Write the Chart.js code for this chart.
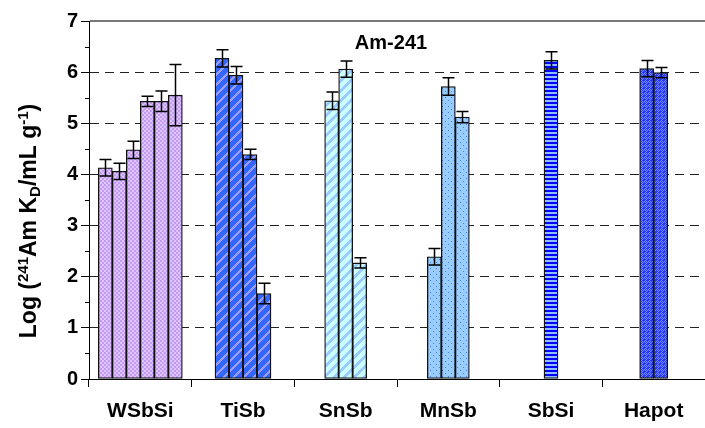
<!DOCTYPE html>
<html><head><meta charset="utf-8">
<script src="https://cdn.jsdelivr.net/npm/chart.js@4.4.0/dist/chart.umd.min.js"></script>
<style>html,body{margin:0;padding:0;background:#fff;}canvas{display:block;}</style>
</head><body><canvas id="c" width="705" height="428"></canvas>
<script>
// ---- data ----
const categories = ['WSbSi', 'TiSb', 'SnSb', 'MnSb', 'SbSi', 'Hapot'];
const wsbsiValues = [4.13, 4.06, 4.48, 5.43, 5.43, 5.55];
const wsbsiErrors = [0.16, 0.16, 0.17, 0.10, 0.20, 0.60];
const tisbValues  = [6.27, 5.94, 4.39, 1.67];
const tisbErrors  = [0.17, 0.17, 0.10, 0.20];
const snsbValues  = [5.44, 6.06, 2.27];
const snsbErrors  = [0.17, 0.16, 0.10];
const mnsbValues  = [2.39, 5.72, 5.12];
const mnsbErrors  = [0.16, 0.17, 0.11];
const sbsiValues  = [6.23];
const sbsiErrors  = [0.17];
const hapotValues = [6.07, 5.99];
const hapotErrors = [0.16, 0.10];
const yTickValues = [0, 1, 2, 3, 4, 5, 6, 7];
const chartTitle = 'Am-241';

const groupValues = [wsbsiValues, tisbValues, snsbValues, mnsbValues, sbsiValues, hapotValues];
const groupErrors = [wsbsiErrors, tisbErrors, snsbErrors, mnsbErrors, sbsiErrors, hapotErrors];
const FONT = "'Liberation Sans', Arial, sans-serif";

// ---- patterns ----
function makePattern(w, h, draw) {
  const c = document.createElement('canvas');
  c.width = w; c.height = h;
  const g = c.getContext('2d');
  draw(g, w, h);
  return document.getElementById('c').getContext('2d').createPattern(c, 'repeat');
}
const patWSbSi = makePattern(4, 4, (g) => {
  g.fillStyle = '#DCC6FB'; g.fillRect(0, 0, 4, 4);
  g.fillStyle = '#C49AF4'; g.fillRect(0, 0, 2, 2); g.fillRect(2, 2, 2, 2);
});
function diagStripes(base, stripe, period, width) {
  return makePattern(period, period, (g, w, h) => {
    g.fillStyle = base; g.fillRect(0, 0, w, h);
    g.fillStyle = stripe;
    for (let y = 0; y < h; y++) {
      for (let k = 0; k < width; k++) {
        const x = ((period - 1 - y) + k + period * 2) % period;
        g.fillRect(x, y, 1, 1);
      }
    }
  });
}
const patTiSb = diagStripes('#3366FF', '#9C9CFF', 10, 3);
const patSnSb = diagStripes('#CCFFFF', '#9CCBFF', 10, 4);
const patMnSb = makePattern(6, 6, (g) => {
  g.fillStyle = '#99CCFF'; g.fillRect(0, 0, 6, 6);
  g.fillStyle = '#3F7FEF'; g.fillRect(1, 1, 1, 1); g.fillRect(4, 4, 1, 1);
});
const patSbSi = makePattern(4, 4, (g) => {
  g.fillStyle = '#0000FF'; g.fillRect(0, 0, 4, 4);
  g.fillStyle = '#8EBEFF'; g.fillRect(0, 0, 4, 2);
});
const patHapot = makePattern(4, 4, (g) => {
  g.fillStyle = '#2B36FF'; g.fillRect(0, 0, 4, 4);
  g.fillStyle = '#6C8FFF'; g.fillRect(1, 0, 1, 1); g.fillRect(0, 1, 1, 1); g.fillRect(2, 1, 1, 1); g.fillRect(1, 2, 1, 1);
  g.fillRect(3, 2, 1, 1); g.fillRect(2, 3, 1, 1);
});
const categoryFills = [patWSbSi, patTiSb, patSnSb, patMnSb, patSbSi, patHapot];

// ---- datasets: one per bar slot ----
const maxSlots = Math.max(...groupValues.map(g => g.length));
const datasets = [];
for (let s = 0; s < maxSlots; s++) {
  datasets.push({
    label: 'slot ' + (s + 1),
    data: groupValues.map(g => (s < g.length ? g[s] : null)),
    errors: groupErrors.map(g => (s < g.length ? g[s] : null)),
    backgroundColor: categoryFills,
    borderColor: '#111',
    borderWidth: 1.3,
    borderSkipped: false,
    skipNull: true,
    barThickness: 14
  });
}

// ---- plugins ----
const errorBars = {
  id: 'errorBars',
  afterDatasetsDraw(chart) {
    const ctx = chart.ctx, ys = chart.scales.y;
    ctx.save();
    ctx.strokeStyle = '#000'; ctx.lineWidth = 1.5;
    chart.data.datasets.forEach((ds, di) => {
      const meta = chart.getDatasetMeta(di);
      meta.data.forEach((el, i) => {
        const v = ds.data[i], e = ds.errors[i];
        if (v == null || e == null || !isFinite(el.x)) return;
        const x = Math.round(el.x) + 0.5;
        const yt = ys.getPixelForValue(v + e), yb = ys.getPixelForValue(v - e);
        const cw = 6;
        ctx.beginPath();
        ctx.moveTo(x, yt); ctx.lineTo(x, yb);
        ctx.moveTo(x - cw, yt); ctx.lineTo(x + cw, yt);
        ctx.moveTo(x - cw, yb); ctx.lineTo(x + cw, yb);
        ctx.stroke();
      });
    });
    ctx.restore();
  }
};
const decorations = {
  id: 'decorations',
  afterDraw(chart) {
    const ctx = chart.ctx, ys = chart.scales.y, area = chart.chartArea;
    ctx.save();
    ctx.setLineDash([]);
    ctx.globalAlpha = 1;
    // plot-area top edge (value 7): solid grey line
    let ty = Math.round(ys.getPixelForValue(yTickValues[yTickValues.length - 1]));
    if (!isFinite(ty)) ty = 21;
    ctx.fillStyle = 'rgb(120,120,120)';
    ctx.fillRect(90, ty - 1, 615, 2);
    // minor ticks on y axis
    ctx.strokeStyle = '#000'; ctx.lineWidth = 1;
    for (let i = 0; i < yTickValues.length - 1; i++) {
      const py = Math.round(ys.getPixelForValue(yTickValues[i] + 0.5)) + 0.5;
      ctx.beginPath(); ctx.moveTo(area.left - 4, py); ctx.lineTo(area.left, py); ctx.stroke();
    }
    // chart title
    ctx.fillStyle = '#000';
    ctx.font = 'bold 20px ' + FONT;
    ctx.textAlign = 'center'; ctx.textBaseline = 'middle';
    ctx.fillText(chartTitle, 391, 43);
    // y axis title with super/subscripts
    const parts = [
      ['Log (', 'n'], ['241', 'sup'], ['Am K', 'n'], ['D', 'sub'], ['/mL g', 'n'], ['-1', 'sup'], [')', 'n']
    ];
    const big = 'bold 23px ' + FONT, small = 'bold 15px ' + FONT;
    let total = 0;
    parts.forEach(p => { ctx.font = p[1] === 'n' ? big : small; total += ctx.measureText(p[0]).width; });
    ctx.translate(28, 221);
    ctx.rotate(-Math.PI / 2);
    ctx.textAlign = 'left'; ctx.textBaseline = 'alphabetic';
    let x = -total / 2;
    parts.forEach(p => {
      ctx.font = p[1] === 'n' ? big : small;
      const dy = p[1] === 'sup' ? -8 : (p[1] === 'sub' ? 4 : 0);
      ctx.fillText(p[0], x, 8 + dy);
      x += ctx.measureText(p[0]).width;
    });
    ctx.restore();
  }
};

new Chart(document.getElementById('c'), {
  type: 'bar',
  data: { labels: categories, datasets },
  options: {
    responsive: false,
    animation: false,
    devicePixelRatio: 1,
    layout: { padding: { left: 0, right: 0, top: 21, bottom: 0 } },
    plugins: { legend: { display: false }, tooltip: { enabled: false } },
    scales: {
      x: {
        grid: { offset: true, drawOnChartArea: false, drawTicks: true, tickLength: 8, tickColor: '#000' },
        border: { display: true, color: '#000', width: 1 },
        ticks: { color: '#000', font: { family: FONT, size: 21, weight: 'bold' }, padding: 12, maxRotation: 0, autoSkip: false },
        afterFit(s) { s.height = 49; }
      },
      y: {
        min: yTickValues[0], max: yTickValues[yTickValues.length - 1],
        afterBuildTicks(s) { s.ticks = yTickValues.map(v => ({ value: v })); },
        grid: {
          color: (ctx) => ctx.tick && (ctx.tick.value === 7 || ctx.tick.value === 0) ? 'rgba(0,0,0,0)' : '#222',
          tickColor: '#000', tickLength: 8, lineWidth: 1
        },
        border: {
          display: true, color: '#000', width: 1,
          dash: [9, 6]
        },
        ticks: { color: '#000', font: { family: FONT, size: 20, weight: 'bold' }, padding: 3 },
        afterFit(s) { s.width = 89; }
      }
    }
  },
  plugins: [errorBars, decorations]
});
</script>
</body></html>
